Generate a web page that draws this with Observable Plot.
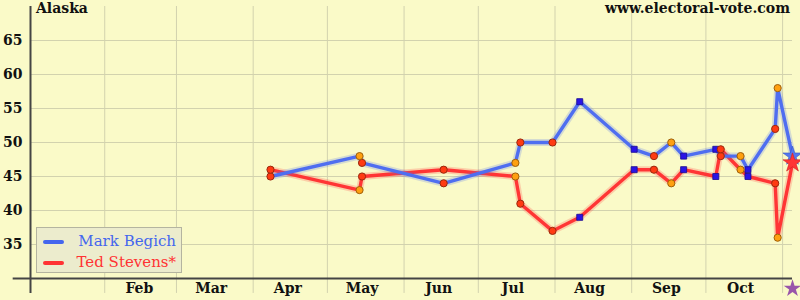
<!DOCTYPE html>
<html><head><meta charset="utf-8">
<script src="https://cdn.jsdelivr.net/npm/d3@7"></script>
<script src="https://cdn.jsdelivr.net/npm/@observablehq/plot@0.6"></script>
<style>
html,body{margin:0;padding:0;background:#fafac8;}
#wrap{position:relative;width:800px;height:300px;background:#fafac8;overflow:hidden;font-family:"DejaVu Serif",serif;}
#title{position:absolute;left:36px;top:0px;font-weight:bold;font-size:14px;color:#111;}
#site{position:absolute;right:10px;top:0px;font-weight:bold;font-size:14px;color:#111;}
#legend{position:absolute;left:36px;top:227px;width:144px;height:44px;background:#ececcd;border:1px solid #b4b4a0;}
.item{position:absolute;right:5px;font-size:15px;white-space:nowrap;}
.sw{position:absolute;left:6px;width:21px;height:4px;border-radius:2px;}
</style></head>
<body>
<div id="wrap">
  <div id="chart"></div>
  <div id="title"></div>
  <div id="site"></div>
  <div id="legend"></div>
</div>
<script>
// ---- data ----
const stateName = "Alaska";
const siteName = "www.electoral-vote.com";
const candidates = ["Mark Begich", "Ted Stevens*"];
const pollDates = ["2008-04-08","2008-05-14","2008-05-15","2008-06-17","2008-07-16","2008-07-18","2008-07-31","2008-08-11","2008-09-02","2008-09-10","2008-09-17","2008-09-22","2008-10-05","2008-10-07","2008-10-15","2008-10-18","2008-10-29","2008-10-30"];
const begich  = [45,48,47,44,47,50,50,56,49,48,50,48,49,48,48,46,52,58];
const stevens = [46,43,45,46,45,41,37,39,46,46,44,46,45,49,46,45,44,36];
const pollMarkers = ["red","orange","red","red","orange","red","red","square","square","red","orange","square","square","red","orange","square","red","orange"];
const electionDate = "2008-11-05";
const electionBegich = 48;
const electionStevens = 47;
const yTicks = [35,40,45,50,55,60,65];
const monthStarts = ["2008-02-01","2008-03-01","2008-04-01","2008-05-01","2008-06-01","2008-07-01","2008-08-01","2008-09-01","2008-10-01","2008-11-01"];
const monthMids = ["2008-02-15","2008-03-15","2008-04-15","2008-05-15","2008-06-15","2008-07-15","2008-08-15","2008-09-15","2008-10-15"];
const monthLabels = ["Feb","Mar","Apr","May","Jun","Jul","Aug","Sep","Oct"];

// ---- build ----
const xStart = new Date("2008-01-02");
const xEnd = new Date(electionDate);
const axisLeftStart = new Date("2007-12-26");
const yMin = 30, yMax = 70, yBelow = 27.8;
const colB = "#4f6ef0", colS = "#ff3535";

const polls = pollDates.map((d,i)=>({date:new Date(d), begich:begich[i], stevens:stevens[i], marker:pollMarkers[i]}));
const series = polls.concat([{date:new Date(electionDate), begich:electionBegich, stevens:electionStevens, marker:"star"}]);
const mids = monthMids.map(d=>new Date(d));
const grid = "#d2d2ae";

function markerMarks(key){
  return [
    Plot.dot(polls.filter(d=>d.marker==="red"), {x:"date", y:key, r:3.6, fill:"#ff3b12", stroke:"#9a2a0e", strokeWidth:1}),
    Plot.dot(polls.filter(d=>d.marker==="orange"), {x:"date", y:key, r:3.6, fill:"#ffa010", stroke:"#a0600a", strokeWidth:1}),
    Plot.dot(polls.filter(d=>d.marker==="square"), {x:"date", y:key, r:3.4, symbol:"square", fill:"#2a14e6", stroke:"#1a0c90", strokeWidth:0.8})
  ];
}

const chart = Plot.plot({
  width:800, height:300,
  marginLeft:30, marginRight:8, marginTop:6, marginBottom:22,
  style:{background:"transparent", fontFamily:"DejaVu Serif, serif", fontSize:"14px", fontWeight:"bold", color:"#111"},
  x:{type:"utc", domain:[xStart, xEnd], ticks:mids, tickFormat:d=>monthLabels[mids.findIndex(m=>+m===+d)], tickSize:0, tickPadding:5, label:null},
  y:{domain:[yMin, yMax], ticks:yTicks, tickSize:0, tickPadding:8, label:null},
  marks:[
    Plot.ruleY(yTicks, {stroke:grid, strokeWidth:1}),
    Plot.ruleX(monthStarts.map(d=>new Date(d)), {y1:yMax, y2:yBelow, stroke:grid, strokeWidth:1}),
    Plot.ruleY([yMin], {x1:axisLeftStart, x2:xEnd, stroke:"#444", strokeWidth:2}),
    Plot.ruleX([xStart], {y1:yMax, y2:yBelow, stroke:"#444", strokeWidth:2}),
    Plot.line(series, {x:"date", y:"stevens", stroke:colS, strokeWidth:7, strokeOpacity:0.22, strokeLinejoin:"round"}),
    Plot.line(series, {x:"date", y:"stevens", stroke:colS, strokeWidth:3.4, strokeLinejoin:"round"}),
    Plot.line(series, {x:"date", y:"begich", stroke:colB, strokeWidth:7, strokeOpacity:0.22, strokeLinejoin:"round"}),
    Plot.line(series, {x:"date", y:"begich", stroke:colB, strokeWidth:3.4, strokeLinejoin:"round"}),
    ...markerMarks("begich"),
    ...markerMarks("stevens"),
    Plot.dot(series.filter(d=>d.marker==="star"), {x:"date", y:"begich", symbol:"star", r:6, fill:"#5577ee", stroke:"#3355cc", strokeWidth:0.6}),
    Plot.dot(series.filter(d=>d.marker==="star"), {x:"date", y:"stevens", symbol:"star", r:6, fill:"#ff3535", stroke:"#cc2222", strokeWidth:0.6}),
    Plot.dot([new Date(electionDate)], {x:d=>d, frameAnchor:"bottom", dy:10, symbol:"star", r:5.5, fill:"#9955aa"})
  ]
});
document.getElementById("chart").appendChild(chart);
document.getElementById("title").textContent = stateName;
document.getElementById("site").textContent = siteName;
const leg = document.getElementById("legend");
[[candidates[0], "#4466ee", 4], [candidates[1], "#ff3333", 25]].forEach(([name, c, top])=>{
  const sw = document.createElement("div"); sw.className="sw"; sw.style.background=c; sw.style.top=(top+8)+"px"; leg.appendChild(sw);
  const t = document.createElement("div"); t.className="item"; t.style.color=c; t.style.top=top+"px"; t.textContent=name; leg.appendChild(t);
});
</script>
</body></html>
